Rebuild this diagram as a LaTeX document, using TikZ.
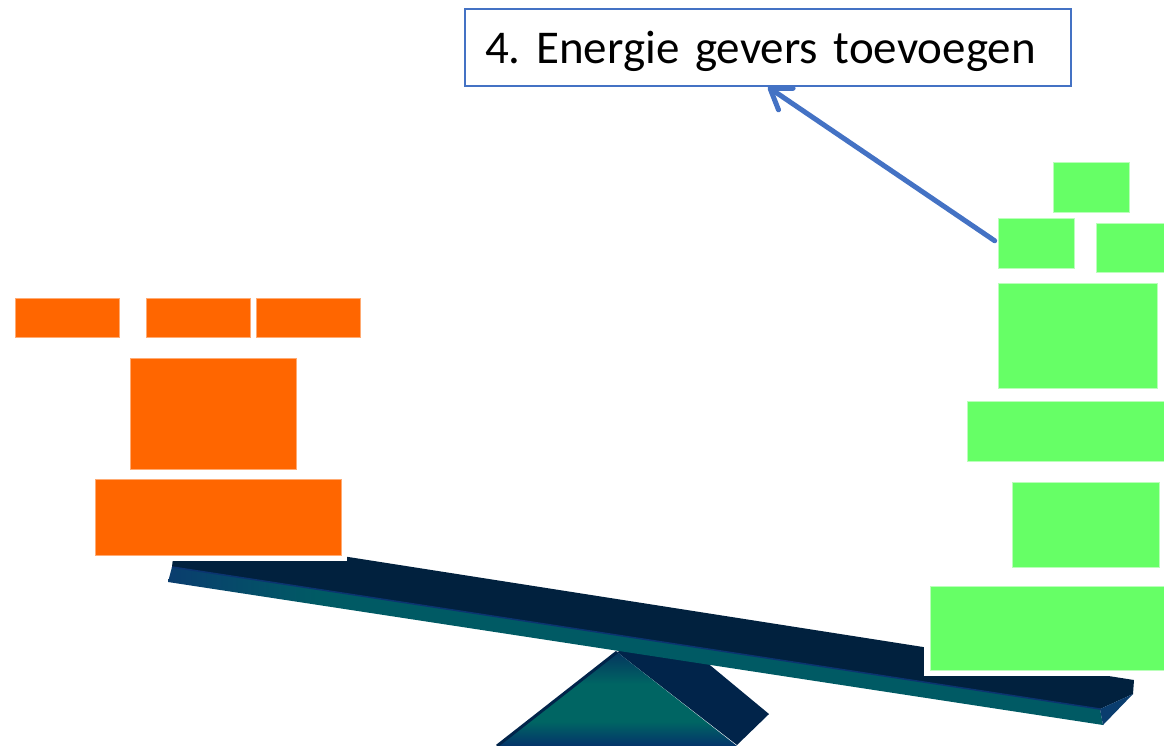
\documentclass[tikz,border=0pt]{standalone}
\usepackage{fontspec}
\setmainfont{Carlito}
\usetikzlibrary{arrows.meta}
\definecolor{brickor}{HTML}{FF6600}
\definecolor{brickgr}{HTML}{66FF66}
\definecolor{lineblue}{HTML}{4472C4}
\definecolor{plktop}{HTML}{01213E}
\definecolor{plkteal}{HTML}{005A64}
\definecolor{plkblue}{HTML}{0A3D6E}
\definecolor{plkedge}{HTML}{0B3470}
\definecolor{pvtside}{HTML}{01244A}
\definecolor{pvtdark}{HTML}{05355F}
\definecolor{pvtteal}{HTML}{006563}
\definecolor{pvtblue}{HTML}{04346A}
\pgfdeclarehorizontalshading{plankfront}{100bp}{color(0bp)=(plkblue); color(25bp)=(plkblue); color(33bp)=(plkteal); color(100bp)=(plkteal)}
\pgfdeclareverticalshading{pivotfront}{100bp}{color(0bp)=(pvtblue); color(25bp)=(pvtblue); color(38bp)=(pvtteal); color(58bp)=(pvtteal); color(75bp)=(pvtdark); color(100bp)=(pvtdark)}
\tikzset{
  brick/.style={rectangle,inner sep=0pt,outer sep=0pt,line width=1pt},
  obrick/.style={brick,fill=brickor,draw=brickor!55!white},
  gbrick/.style={brick,fill=brickgr,draw=brickgr!45!white},
  lifted/.style={preaction={draw=white,line width=12pt}},
  tag/.style={draw=lineblue,line width=2pt,fill=white,inner xsep=20pt,inner ysep=4pt,
              text width=566pt,align=left,minimum height=77pt,text height=40pt,text depth=8.4pt,
              font=\fontsize{47}{50}\selectfont\frenchspacing},
  pointer/.style={draw=lineblue,line width=5pt,line cap=round,
                  -{Straight Barb[length=19pt,width=26pt,round]}}
}

\begin{document}
\begin{tikzpicture}[x=1pt,y=-1pt]
\useasboundingbox (0,0) rectangle (1164,745);

% pivot under the beam
\fill[pvtside] (617,652) -- (670,632) -- (769,714) -- (737,745) -- cycle;
\shade[shading=pivotfront] (617,652) -- (737,746) -- (497,746) -- cycle;
\draw[pvtside,line width=3pt] (617,652) -- (497,746);

% tilted beam
\fill[plktop] (176,530) -- (1134,680) -- (1133,694) -- (1100,709) -- (172,567) -- cycle;
\shade[shading=plankfront] (172,567) -- (1100,709) -- (1103,725) -- (168,582) -- cycle;
\fill[plkblue] (1100,709) -- (1133,694) -- (1103,725) -- cycle;
\draw[plkedge,line width=1.5pt] (172,567) -- (1100,709);

% orange load
\node[obrick,minimum width=104pt,minimum height=39pt] (o1) at (67,317.5) {};
\node[obrick,minimum width=104pt,minimum height=39pt] (o2) at (198,317.5) {};
\node[obrick,minimum width=104pt,minimum height=39pt] (o3) at (308,317.5) {};
\node[obrick,minimum width=166pt,minimum height=111pt] (o4) at (213,413.5) {};
\node[obrick,lifted,minimum width=246pt,minimum height=76pt] (o5) at (218,517) {};

% green load
\node[gbrick,minimum width=76pt,minimum height=50pt] (g1) at (1091,187) {};
\node[gbrick,minimum width=76pt,minimum height=50pt] (g2) at (1036,243) {};
\node[gbrick,minimum width=74pt,minimum height=49pt] (g3) at (1133,247.5) {};
\node[gbrick,minimum width=159pt,minimum height=105pt] (g4) at (1077.5,335.5) {};
\node[gbrick,minimum width=203pt,minimum height=60pt] (g5) at (1068.5,431) {};
\node[gbrick,minimum width=147pt,minimum height=85pt] (g6) at (1085.5,524.5) {};
\node[gbrick,lifted,minimum width=240pt,minimum height=84pt] (g7) at (1050,628) {};

\node[tag] (goal) at (768,47.5) {4. Energie gevers toevoegen};
\draw[pointer,shorten <=4pt] (g2.west) -- (goal.south);
\end{tikzpicture}
\end{document}
